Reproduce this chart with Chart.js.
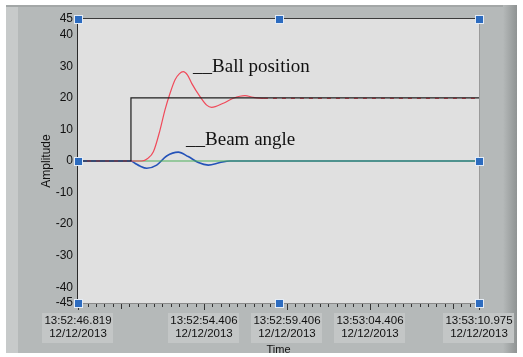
<!DOCTYPE html>
<html><head><meta charset="utf-8">
<script src="https://cdn.jsdelivr.net/npm/chart.js@4.4.1/dist/chart.umd.min.js"></script>
<style>html,body{margin:0;padding:0;background:#fff;overflow:hidden}#wrap{width:523px;height:357px;position:relative}</style>
</head><body><div id="wrap"><canvas id="c" width="523" height="357"></canvas></div>
<script>
// x values are seconds after 13:52:46.819
const xTickValues = [0, 7.587, 12.587, 17.587, 24.156];
const xTickTimes = ['13:52:46.819', '13:52:54.406', '13:52:59.406', '13:53:04.406', '13:53:10.975'];
const xTickDates = ['12/12/2013', '12/12/2013', '12/12/2013', '12/12/2013', '12/12/2013'];
const yTickValues = [45, 40, 30, 20, 10, 0, -10, -20, -30, -40, -45];

const setpointT = [0, 3.19, 3.19, 24.156];
const setpointV = [0, 0, 20, 20];
const ballT = [0, 3.19, 3.84, 4.2, 4.54, 4.94, 5.24, 5.54, 5.84, 6.1, 6.34, 6.6, 6.85, 7.35, 7.75, 8.05, 8.75, 9.36, 10.06, 10.54, 11.2, 24.156];
const ballV = [0, 0, 0, 0.8, 2.9, 9.8, 16.2, 21.4, 25.7, 27.6, 28.3, 27.2, 24.6, 20.4, 17.7, 17.0, 18.3, 19.9, 20.7, 20.2, 19.85, 19.85];
const angleT = [0, 3.19, 3.43, 3.73, 4.14, 4.74, 5.34, 6.04, 6.64, 7.25, 7.85, 8.55, 9.16, 24.156];
const angleV = [0, 0, -0.7, -1.6, -2.3, -1.3, 1.6, 2.8, 1.4, -0.5, -1.3, -0.5, 0, 0];
const refT = [3.31, 24.156];
const refV = [0, 0];

const annotations = [
  {text: '__Ball position', t: 6.93, v: 28.2},
  {text: '__Beam angle', t: 6.51, v: 5.07}
];

const pts = (xs, ys) => xs.map((x, i) => ({x, y: ys[i]}));
const sansFont = '"Liberation Sans", Arial, sans-serif';
const xTickFont = {family: sansFont, size: 11.5, lineHeight: 1.1};

const frame = {
  id: 'frame',
  beforeDraw(chart) {
    const c = chart.ctx, a = chart.chartArea, xs = chart.scales.x;
    c.save();
    c.fillStyle = '#ffffff'; c.fillRect(0, 0, 523, 357);
    c.fillStyle = '#b5b9b9'; c.fillRect(6, 5, 511, 348);
    c.fillStyle = '#c7caca'; c.fillRect(6, 5, 12, 348);
    c.fillStyle = '#a3a7a7'; c.fillRect(6, 5, 511, 2);
    const g = c.createLinearGradient(503, 0, 517, 0);
    g.addColorStop(0, '#b5b9b9'); g.addColorStop(1, '#8f9393');
    c.fillStyle = g; c.fillRect(503, 5, 14, 348);
    c.fillStyle = '#e0e0e0'; c.fillRect(a.left, a.top, a.right - a.left, a.bottom - a.top);
    // label backdrops for x tick labels
    c.font = xTickFont.size + 'px ' + xTickFont.family;
    c.fillStyle = '#c3c6c6';
    xTickValues.forEach((t, i) => {
      const px = xs.getPixelForValue(t);
      const w = Math.max(c.measureText(xTickTimes[i]).width, c.measureText(xTickDates[i]).width) + 4;
      c.fillRect(Math.round(px - w / 2), a.bottom + 10, Math.round(w), 30);
    });
    c.restore();
  },
  afterDraw(chart) {
    const c = chart.ctx, a = chart.chartArea, xs = chart.scales.x, ys = chart.scales.y;
    c.save();
    c.lineWidth = 1;
    c.strokeStyle = '#3a3a3a';
    c.beginPath(); c.moveTo(a.left, a.top - 0.5); c.lineTo(a.right, a.top - 0.5); c.stroke();
    c.strokeStyle = '#9a9a9a';
    c.beginPath(); c.moveTo(a.right + 0.5, a.top); c.lineTo(a.right + 0.5, a.bottom); c.stroke();
    c.strokeStyle = '#8a8a8a';
    c.beginPath(); c.moveTo(a.left, a.bottom + 0.5); c.lineTo(a.right, a.bottom + 0.5); c.stroke();
    c.strokeStyle = '#2a2a2a';
    c.beginPath(); c.moveTo(a.left - 0.5, a.top - 1); c.lineTo(a.left - 0.5, a.bottom + 1); c.stroke();
    // x tick marks (minor 0.5 s, major 5 s)
    c.strokeStyle = '#333';
    for (let k = 0; ; k++) {
      const t = 0.087 + 0.5 * k;
      if (t > xs.max) break;
      const px = Math.round(xs.getPixelForValue(t)) + 0.5;
      const major = (k % 10) === 5;
      c.beginPath(); c.moveTo(px, a.bottom + 1); c.lineTo(px, a.bottom + (major ? 6 : 4)); c.stroke();
    }
    xTickValues.forEach(t => {
      const px = Math.round(xs.getPixelForValue(t)) + 0.5;
      c.beginPath(); c.moveTo(px, a.bottom + 1); c.lineTo(px, a.bottom + 7); c.stroke();
    });
    // annotations
    c.fillStyle = '#111';
    c.font = '19px "Liberation Serif", serif';
    c.textBaseline = 'alphabetic';
    annotations.forEach(an => {
      c.fillText(an.text, xs.getPixelForValue(an.t), ys.getPixelForValue(an.v));
    });
    // cursor handles
    const mx = (a.left + a.right) / 2, my = ys.getPixelForValue(0);
    const hs = [[a.left, a.top], [mx, a.top], [a.right, a.top], [a.left, my], [a.right, my], [a.left, a.bottom], [mx, a.bottom], [a.right, a.bottom]];
    hs.forEach(([x, y]) => {
      x = Math.round(x); y = Math.round(y);
      c.fillStyle = '#e4ecf6'; c.fillRect(x - 4, y - 4, 9, 9);
      c.fillStyle = '#2c6bbf'; c.fillRect(x - 3, y - 3, 7, 7);
    });
    c.restore();
  }
};

new Chart(document.getElementById('c'), {
  type: 'line',
  data: {
    datasets: [
      {label: 'Setpoint', data: pts(setpointT, setpointV), borderColor: '#1e1e1e', borderWidth: 1.2, tension: 0, order: 1},
      {label: 'Ball position', data: pts(ballT, ballV), borderColor: '#f04a5a', borderWidth: 1.2, cubicInterpolationMode: 'monotone', order: 2,
        segment: {borderDash: ctx => (ctx.p1.parsed.x <= 3.19 || ctx.p0.parsed.x >= 11.2) ? [4, 5] : undefined}},
      {label: 'Reference angle', data: pts(refT, refV), borderColor: '#4caf5a', borderWidth: 1.2, tension: 0, order: 3},
      {label: 'Beam angle', data: pts(angleT, angleV), borderColor: '#2452b8', borderWidth: 1.6, cubicInterpolationMode: 'monotone', order: 4}
    ]
  },
  options: {
    responsive: false,
    animation: false,
    events: [],
    elements: {point: {radius: 0}},
    layout: {padding: {left: 0, right: 44, top: 19, bottom: 0}},
    plugins: {legend: {display: false}, tooltip: {enabled: false}},
    scales: {
      x: {
        type: 'linear', min: 0, max: 24.156,
        afterBuildTicks: s => { s.ticks = xTickValues.map(v => ({value: v})); },
        afterFit: s => { s.height = 54; s.paddingLeft = 0; s.paddingRight = 0; },
        grid: {display: false, drawTicks: false},
        border: {display: false},
        ticks: {
          autoSkip: false, maxRotation: 0, padding: 12, color: '#111', font: xTickFont,
          callback: v => { const i = xTickValues.indexOf(v); return i < 0 ? '' : [xTickTimes[i], xTickDates[i]]; }
        },
        title: {display: true, text: 'Time', color: '#111', font: {family: sansFont, size: 11, lineHeight: 1.2}, padding: {top: 0, bottom: 0}}
      },
      y: {
        type: 'linear', min: -45, max: 45,
        afterBuildTicks: s => { s.ticks = yTickValues.map(v => ({value: v})); },
        afterFit: s => { s.width = 78; s.paddingTop = 0; s.paddingBottom = 0; },
        grid: {display: false, drawTicks: false},
        border: {display: false},
        ticks: {autoSkip: false, padding: 5, color: '#111', font: {family: sansFont, size: 12}},
        title: {display: true, text: 'Amplitude', color: '#111', font: {family: sansFont, size: 12, lineHeight: 1.2}, padding: {top: 39, bottom: 0}}
      }
    }
  },
  plugins: [frame]
});
</script>
</body></html>
